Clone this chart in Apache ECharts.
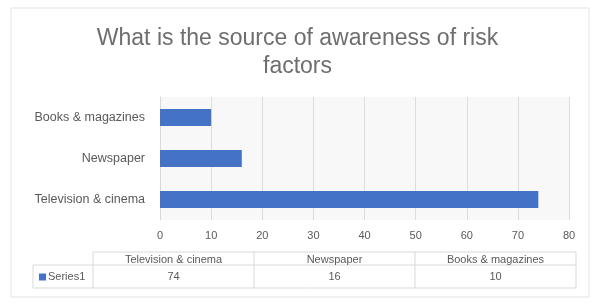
<!DOCTYPE html>
<html>
<head>
<meta charset="utf-8">
<script src="https://cdn.jsdelivr.net/npm/echarts@6/dist/echarts.min.js"></script>
<style>
  html, body { margin: 0; padding: 0; background: #fff; }
  #chart { width: 595px; height: 304px; }
</style>
</head>
<body>
<div id="chart"></div>
<script>
const categories = ['Television & cinema', 'Newspaper', 'Books & magazines'];
const values = [74, 16, 10];
const seriesName = 'Series1';
const xTicks = [0, 10, 20, 30, 40, 50, 60, 70, 80];

const chart = echarts.init(document.getElementById('chart'));

// data table under the axis
const tableLeft = 93, colW = 161, rowTop = 252, rowH = 13, row2H = 23, keyLeft = 33;
const font = '11px "Liberation Sans", sans-serif';
const table = [];
const line = { stroke: '#d9d9d9', lineWidth: 1 };
const tableRight = tableLeft + colW * categories.length;
table.push({ type: 'line', shape: { x1: tableLeft, y1: rowTop, x2: tableRight, y2: rowTop }, style: line });
table.push({ type: 'line', shape: { x1: keyLeft, y1: rowTop + rowH, x2: tableRight, y2: rowTop + rowH }, style: line });
table.push({ type: 'line', shape: { x1: keyLeft, y1: rowTop + rowH + row2H, x2: tableRight, y2: rowTop + rowH + row2H }, style: line });
table.push({ type: 'line', shape: { x1: keyLeft, y1: rowTop + rowH, x2: keyLeft, y2: rowTop + rowH + row2H }, style: line });
for (let i = 0; i <= categories.length; i++) {
  const x = tableLeft + colW * i;
  table.push({ type: 'line', shape: { x1: x, y1: rowTop, x2: x, y2: rowTop + rowH + row2H }, style: line });
}
categories.forEach((c, i) => {
  const cx = tableLeft + colW * i + colW / 2;
  table.push({ type: 'text', x: cx, y: rowTop + rowH / 2 + 1, style: { text: c, fill: '#595959', font: font, align: 'center', verticalAlign: 'middle' } });
  table.push({ type: 'text', x: cx, y: rowTop + rowH + row2H / 2, style: { text: String(values[i]), fill: '#595959', font: font, align: 'center', verticalAlign: 'middle' } });
});
table.push({ type: 'rect', shape: { x: keyLeft + 6, y: rowTop + rowH + row2H / 2 - 3, width: 7, height: 7 }, style: { fill: '#4472c4' } });
table.push({ type: 'text', x: keyLeft + 15, y: rowTop + rowH + row2H / 2, style: { text: seriesName, fill: '#595959', font: font, align: 'left', verticalAlign: 'middle' } });

const option = {
  backgroundColor: '#fff',
  animation: false,
  title: {
    text: 'What is the source of awareness of risk\nfactors',
    left: 'center',
    top: 20,
    textStyle: {
      color: '#6e6e6e',
      fontSize: 23,
      fontWeight: 'normal',
      fontFamily: '"Liberation Sans", sans-serif',
      lineHeight: 28
    }
  },
  grid: {
    left: 160,
    right: 26,
    top: 97,
    bottom: 84,
    show: true,
    backgroundColor: '#f8f8f8',
    borderWidth: 0
  },
  xAxis: {
    type: 'value',
    min: 0,
    max: 80,
    interval: 10,
    axisLine: { show: false },
    axisTick: { show: false },
    splitLine: { lineStyle: { color: '#dcdcdc' } },
    axisLabel: { color: '#595959', fontSize: 11, margin: 10, fontFamily: '"Liberation Sans", sans-serif' }
  },
  yAxis: {
    type: 'category',
    data: categories,
    axisLine: { lineStyle: { color: '#d9d9d9' } },
    axisTick: { show: false },
    axisLabel: { color: '#595959', fontSize: 12.5, margin: 15, fontFamily: '"Liberation Sans", sans-serif' }
  },
  series: [{
    name: seriesName,
    type: 'bar',
    data: values,
    barWidth: 17,
    itemStyle: { color: '#4472c4' }
  }],
  graphic: [
    { type: 'rect', shape: { x: 11, y: 8, width: 578, height: 289 }, style: { fill: 'none', stroke: '#e3e3e3', lineWidth: 1 }, z: -1 },
    ...table
  ]
};

chart.setOption(option);
window.addEventListener('resize', () => chart.resize());
</script>
</body>
</html>
